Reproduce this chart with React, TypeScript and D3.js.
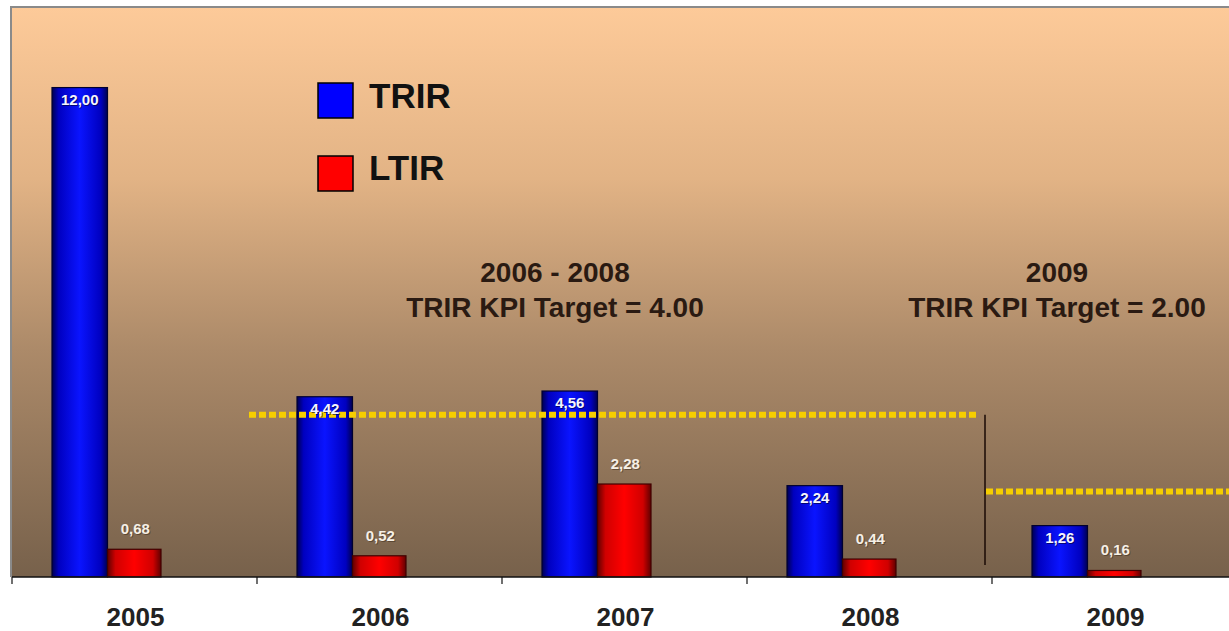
import React from "react";
import * as d3 from "d3";

const years = ["2005", "2006", "2007", "2008", "2009"];
const trir = [12.0, 4.42, 4.56, 2.24, 1.26];
const ltir = [0.68, 0.52, 2.28, 0.44, 0.16];
const seriesNames = ["TRIR", "LTIR"];
const targets = [
  { from: "2006", to: "2008", value: 4.0, title: "2006 - 2008", label: "TRIR KPI Target = 4.00" },
  { from: "2009", to: "2009", value: 2.0, title: "2009", label: "TRIR KPI Target = 2.00" },
];

const W = 1229;
const H = 631;
const FONT = "'Liberation Sans', Arial, sans-serif";

const fmt = (v: number) => v.toFixed(2).replace(".", ",");

export default function App() {
  const plotLeft = 12;
  const plotTop = 8;
  const baseY = 577;
  const bandW = 245;

  const x = d3.scaleBand<string>().domain(years).range([plotLeft, plotLeft + bandW * years.length]).padding(0);
  const inner = d3.scaleBand<string>().domain(seriesNames).range([40, 151]).padding(0);
  const y = d3.scaleLinear().domain([0, 14]).range([baseY, plotTop - 2]);

  const x2009 = x("2009")!;

  return (
    <svg width={W} height={H} style={{ position: "absolute", left: 0, top: 0, background: "#fff" }}>
      <defs>
        <linearGradient id="bg" x1="0" y1="0" x2="0" y2="1">
          <stop offset="0" stopColor="#FDCA99" />
          <stop offset="0.3" stopColor="#E2B385" />
          <stop offset="0.6" stopColor="#AC8A69" />
          <stop offset="1" stopColor="#77614B" />
        </linearGradient>
        <linearGradient id="blueG" x1="0" y1="0" x2="1" y2="0">
          <stop offset="0" stopColor="#000050" />
          <stop offset="0.12" stopColor="#0000C0" />
          <stop offset="0.5" stopColor="#0a14ff" />
          <stop offset="0.88" stopColor="#0000C0" />
          <stop offset="1" stopColor="#000050" />
        </linearGradient>
        <linearGradient id="redG" x1="0" y1="0" x2="1" y2="0">
          <stop offset="0" stopColor="#600000" />
          <stop offset="0.15" stopColor="#D00000" />
          <stop offset="0.5" stopColor="#ff0000" />
          <stop offset="0.85" stopColor="#D00000" />
          <stop offset="1" stopColor="#600000" />
        </linearGradient>
      </defs>

      {/* plot background */}
      <rect x={plotLeft} y={plotTop} width={W - plotLeft} height={baseY - plotTop} fill="url(#bg)" />
      <line x1={plotLeft} x2={W} y1={plotTop - 1} y2={plotTop - 1} stroke="#8a8a8a" strokeWidth={2} />
      <line x1={plotLeft - 1} x2={plotLeft - 1} y1={plotTop - 2} y2={baseY} stroke="#8a8a8a" strokeWidth={2} />

      {/* legend */}
      {seriesNames.map((s, i) => (
        <g key={s}>
          <rect
            x={318}
            y={83 + i * 73}
            width={35}
            height={35}
            fill={i === 0 ? "#0000ff" : "#ff0000"}
            stroke="#000"
            strokeWidth={1.5}
          />
          <text x={369} y={108 + i * 72} fontFamily={FONT} fontWeight="bold" fontSize={35} fill="#111">
            {s}
          </text>
        </g>
      ))}

      {/* target annotations */}
      {targets.map((t, i) => {
        const cx = i === 0 ? 555 : 1057;
        return (
          <g key={t.title} fontFamily={FONT} fontWeight="bold" fontSize={28} fill="#2a1a12" textAnchor="middle">
            <text x={cx} y={282}>{t.title}</text>
            <text x={cx} y={317}>{t.label}</text>
          </g>
        );
      })}

      {/* bars */}
      {years.map((yr, i) => {
        const bx = x(yr)!;
        const tx = bx + inner("TRIR")!;
        const lx = bx + inner("LTIR")!;
        const bw = inner.bandwidth();
        return (
          <g key={yr}>
            <rect x={tx} y={y(trir[i])} width={bw} height={baseY - y(trir[i])} fill="url(#blueG)" stroke="#000030" strokeWidth={1.2} />
            <rect x={lx} y={y(ltir[i])} width={bw - 2} height={baseY - y(ltir[i])} fill="url(#redG)" stroke="#400000" strokeWidth={1.2} />
          </g>
        );
      })}

      {/* target lines */}
      <line
        x1={x("2006")! - 8}
        x2={x2009 - 15}
        y1={y(targets[0].value) + 1}
        y2={y(targets[0].value) + 1}
        stroke="#F6CE00"
        strokeWidth={6}
        strokeDasharray="7 3"
      />
      <line
        x1={x2009 - 6}
        x2={W}
        y1={y(targets[1].value) - 4}
        y2={y(targets[1].value) - 4}
        stroke="#F6CE00"
        strokeWidth={6}
        strokeDasharray="7 3"
      />
      <line x1={x2009 - 7} x2={x2009 - 7} y1={y(targets[0].value) + 1} y2={baseY - 12} stroke="#1a0a05" strokeWidth={1.5} />

      {/* value labels */}
      {years.map((yr, i) => {
        const bx = x(yr)!;
        const bw = inner.bandwidth();
        const tcx = bx + inner("TRIR")! + bw / 2;
        const lcx = bx + inner("LTIR")! + bw / 2;
        return (
          <g key={yr} fontFamily={FONT} fontWeight="bold" fontSize={15} textAnchor="middle">
            <text x={tcx + 1} y={y(trir[i]) + 18} fill="#00002a" opacity={0.6}>{fmt(trir[i])}</text>
            <text x={tcx} y={y(trir[i]) + 17} fill="#f4f4ff">{fmt(trir[i])}</text>
            <text x={lcx + 1} y={y(ltir[i]) - 14} fill="#3a2a1a" opacity={0.5}>{fmt(ltir[i])}</text>
            <text x={lcx} y={y(ltir[i]) - 15} fill="#f6f0e6">{fmt(ltir[i])}</text>
          </g>
        );
      })}

      {/* x axis */}
      <line x1={plotLeft} x2={W} y1={baseY} y2={baseY} stroke="#111" strokeWidth={1.5} />
      {years.map((yr) => (
        <line key={yr} x1={x(yr)!} x2={x(yr)!} y1={baseY} y2={baseY + 7} stroke="#111" strokeWidth={1.2} />
      ))}
      {years.map((yr) => (
        <text
          key={yr}
          x={x(yr)! + x.bandwidth() / 2 + 1}
          y={626}
          fontFamily={FONT}
          fontWeight="bold"
          fontSize={26}
          fill="#222"
          textAnchor="middle"
        >
          {yr}
        </text>
      ))}
    </svg>
  );
}
